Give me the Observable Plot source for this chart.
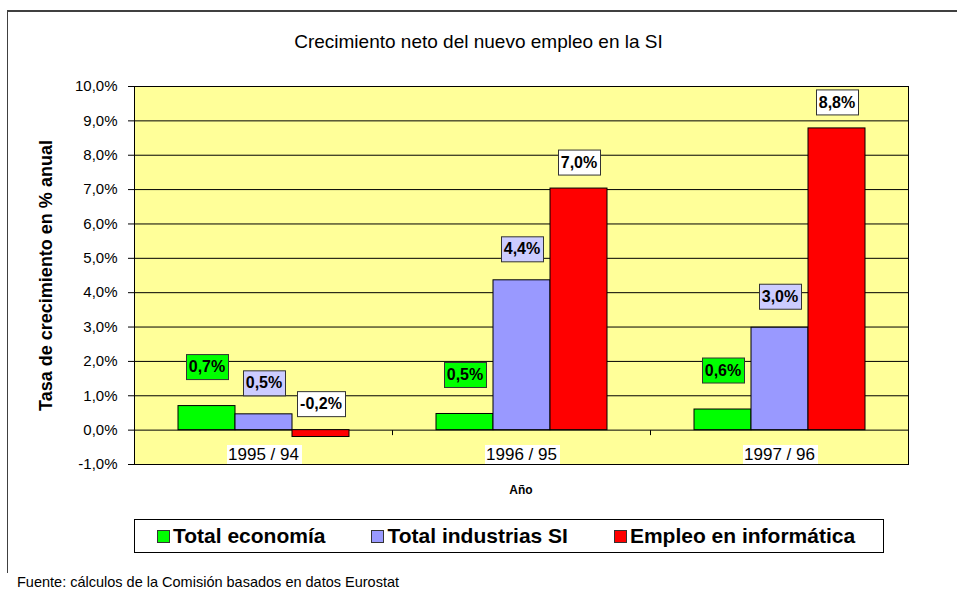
<!DOCTYPE html>
<html>
<head>
<meta charset="utf-8">
<script src="https://cdn.jsdelivr.net/npm/d3@7"></script>
<script src="https://cdn.jsdelivr.net/npm/@observablehq/plot@0.6"></script>
<style>
  html, body { margin: 0; padding: 0; background: #fff; }
  #chart { position: relative; width: 957px; height: 592px; overflow: hidden;
           font-family: "Liberation Sans", Arial, sans-serif; color: #000; }
  #chart svg { position: absolute; left: 0; top: 0; }
  .abs { position: absolute; }
  #border { left: 7px; top: 10px; width: 960px; height: 563px;
            border-top: 2px solid #404040; border-left: 1px solid #404040; box-sizing: border-box; }
  #title { left: 0; width: 957px; top: 31px; text-align: center; font-size: 19px; line-height: 22px; }
  #xtitle { left: 133px; width: 776px; top: 483px; text-align: center; font-size: 12px; font-weight: bold; }
  #legend { left: 134px; top: 519px; width: 750px; height: 34px; box-sizing: border-box;
            border: 1px solid #000; display: flex; align-items: center; padding-left: 22px; gap: 46px; background: #fff; }
  .item { display: flex; align-items: center; font-size: 21px; font-weight: bold; white-space: nowrap; }
  .sw { width: 11px; height: 11px; border: 1px solid #333; margin-right: 3px; }
  #caption { left: 17px; top: 574px; font-size: 14.5px; line-height: 17px; }
  [aria-label="y-axis label"] { font-weight: bold; font-size: 18px; }
</style>
</head>
<body>
<div id="chart">
  <div id="border" class="abs"></div>
  <div id="title" class="abs"></div>
  <div id="xtitle" class="abs"></div>
  <div id="legend" class="abs"></div>
  <div id="caption" class="abs"></div>
</div>
<script>
// ---- data ----
const titleText = "Crecimiento neto del nuevo empleo en la SI";
const yLabelText = "Tasa de crecimiento en % anual";
const xLabelText = "Año";
const captionText = "Fuente: cálculos de la Comisión basados en datos Eurostat";
const years = ["1995 / 94", "1996 / 95", "1997 / 96"];
const series = ["Total economía", "Total industrias SI", "Empleo en informática"];
const totalEconomia = [0.7, 0.47, 0.6];
const totalIndustriasSI = [0.46, 4.36, 2.98];
const empleoInformatica = [-0.2, 7.03, 8.78];
const yTicks = [-1, 0, 1, 2, 3, 4, 5, 6, 7, 8, 9, 10];

// ---- styles ----
const barColors = ["#00FF00", "#9999FF", "#FF0000"];
const labelFills = ["#00FF00", "#CCCCFF", "#FFFFFF"];
const labelDy = [-39, -31, -26];

const values = [totalEconomia, totalIndustriasSI, empleoInformatica];
const rows = [];
years.forEach((yr, i) => series.forEach((s, j) => rows.push({year: yr, series: s, value: values[j][i]})));
const fmt = v => v.toFixed(1).replace(".", ",") + "%";

// short downward tick used to mark category boundaries on the zero line
const tickSymbol = {draw(ctx) { ctx.moveTo(0, 0); ctx.lineTo(0, 5); }};

const labelMarks = series.map((s, j) => Plot.text(rows.filter(d => d.series === s), {
  fx: "year", x: "series", y: d => Math.max(d.value, 0), text: d => fmt(d.value),
  dy: labelDy[j], fontSize: 16, fontWeight: "bold", fill: "#000", lineAnchor: "middle",
  ariaDescription: "bar-labels-" + j
}));

const svg = Plot.plot({
  width: 957, height: 592,
  marginTop: 86, marginBottom: 128, marginLeft: 133, marginRight: 48,
  style: {fontFamily: "'Liberation Sans', Arial, sans-serif", fontSize: "15px", background: "transparent", color: "#000"},
  fx: {domain: years, padding: 0, axis: null},
  x: {domain: series, paddingInner: 0, paddingOuter: 0.73, axis: null},
  y: {domain: [-1, 10], ticks: yTicks, tickFormat: fmt, tickSize: 6, tickPadding: 11,
      label: yLabelText, labelAnchor: "center", labelOffset: 95, labelArrow: false},
  color: {domain: series, range: barColors},
  marks: [
    Plot.frame({fill: "#FFFF99", facet: "super"}),
    Plot.ruleY(yTicks, {stroke: "#000", strokeWidth: 1}),
    Plot.dot(years, {fx: d => d, y: () => 0, frameAnchor: "right", symbol: tickSymbol, r: 3,
      stroke: "#000", fill: "none", strokeWidth: 1}),
    Plot.barY(rows, {fx: "year", x: "series", y: "value", fill: "series", stroke: "#000", strokeWidth: 1}),
    Plot.frame({stroke: "#000", facet: "super"}),
    ...labelMarks,
    Plot.text(years, {fx: d => d, text: d => d, frameAnchor: "bottom", dy: -10, lineAnchor: "middle",
      fontSize: 17, fill: "#000", ariaDescription: "cat-labels"})
  ]
});

const chart = document.getElementById("chart");
chart.appendChild(svg);

function boxify(selector, fill, stroke, padX, padY) {
  svg.querySelectorAll(selector).forEach(t => {
    const b = t.getBBox();
    const r = document.createElementNS("http://www.w3.org/2000/svg", "rect");
    r.setAttribute("x", Math.round(b.x - padX) + 0.5);
    r.setAttribute("y", Math.round(b.y - padY) + 0.5);
    r.setAttribute("width", Math.round(b.width + 2 * padX));
    r.setAttribute("height", Math.round(b.height + 2 * padY));
    r.setAttribute("fill", fill);
    r.setAttribute("stroke", stroke);
    r.setAttribute("stroke-width", stroke === "none" ? 0 : 1);
    if (t.getAttribute("transform")) r.setAttribute("transform", t.getAttribute("transform"));
    t.parentNode.insertBefore(r, t);
  });
}
series.forEach((s, j) => boxify(`g[aria-description="bar-labels-${j}"] text`, labelFills[j], "#333", 3, 4));
boxify(`g[aria-description="cat-labels"] text`, "#FFFFFF", "none", 2, 0);

document.getElementById("title").textContent = titleText;
document.getElementById("xtitle").textContent = xLabelText;
document.getElementById("caption").textContent = captionText;
const legend = document.getElementById("legend");
series.forEach((s, j) => {
  const it = document.createElement("div");
  it.className = "item";
  const sw = document.createElement("div");
  sw.className = "sw";
  sw.style.background = barColors[j];
  it.appendChild(sw);
  it.appendChild(document.createTextNode(s));
  legend.appendChild(it);
});
</script>
</body>
</html>
